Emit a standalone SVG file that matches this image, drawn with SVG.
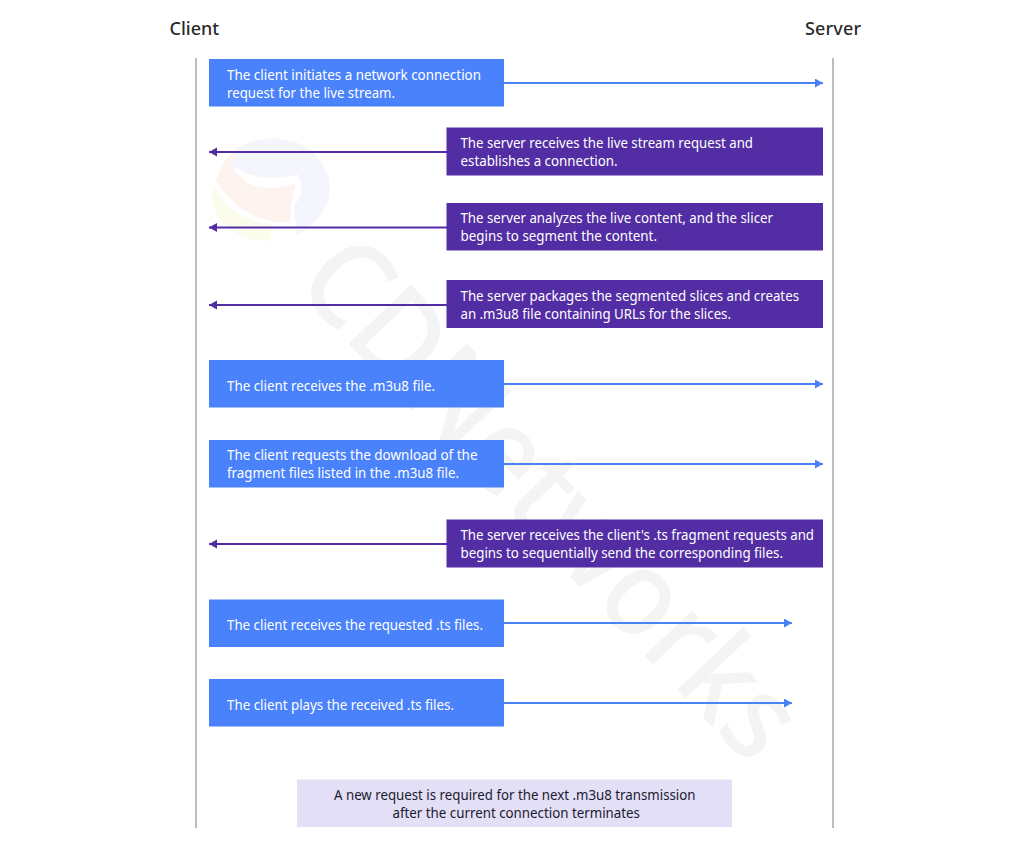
<svg xmlns="http://www.w3.org/2000/svg" width="1024" height="848" viewBox="0 0 1024 848">
<style>
text{font-family:"Noto Sans","Open Sans","Liberation Sans",sans-serif}
.h{font-size:18px;font-weight:500;fill:#2b2b2b}
.t{font-size:14px;fill:#fff}
.n{font-size:14px;fill:#1c1a2e}
.b{fill:#4a82fc}
.p{fill:#532da3}
.lb{stroke:#4a82f5;stroke-width:2;fill:none}
.lp{stroke:#532da3;stroke-width:2;fill:none}
.life{stroke:#bdbdbd;stroke-width:2}
</style>
<defs>
<marker id="ab" markerUnits="userSpaceOnUse" markerWidth="8" markerHeight="10" refX="8" refY="4.5" orient="auto"><path d="M0 0L8 4.500L0 9Z" fill="#4a82f5"/></marker>
<marker id="ap" markerUnits="userSpaceOnUse" markerWidth="8" markerHeight="10" refX="8" refY="4.5" orient="auto"><path d="M0 0L8 4.500L0 9Z" fill="#532da3"/></marker>
</defs>
<g id="watermark">
<text x="293" y="285" transform="rotate(46.500 293 285)" textLength="665" lengthAdjust="spacingAndGlyphs" style="font-size:120px;font-weight:500;fill:#f4f4f4">CDNetworks</text>
<path d="M233 153C245 135 300 130 320 160C338 185 332 215 297 235L294 205C303 197 303 183 297 174C285 180 245 180 233 165Z" fill="#f5f6fd"/>
<path d="M216 180C222 162 228 156 236 150C230 165 234 172 243 178C250 190 282 190 296 183L291 205L290 222C270 225 235 215 216 180Z" fill="#fdf4f0"/>
<path d="M212 195C214 225 240 242 270 241L272 224C250 224 225 210 214 185Z" fill="#fbfcec"/>
</g>
<g id="lifelines">
<line class="life" x1="196" y1="58" x2="196" y2="828"/>
<line class="life" x1="833" y1="58" x2="833" y2="828"/>
</g>
<g id="client-label"><text class="h" x="169.500" y="34.500">Client</text></g>
<g id="server-label"><text class="h" x="805" y="34.500" textLength="56">Server</text></g>
<g id="connectors">
<line class="lb" x1="503" y1="83" x2="823" y2="83" marker-end="url(#ab)"/>
<line class="lp" x1="447" y1="152" x2="209" y2="152" marker-end="url(#ap)"/>
<line class="lp" x1="447" y1="227.500" x2="209" y2="227.500" marker-end="url(#ap)"/>
<line class="lp" x1="447" y1="305" x2="209" y2="305" marker-end="url(#ap)"/>
<line class="lb" x1="503" y1="384" x2="823" y2="384" marker-end="url(#ab)"/>
<line class="lb" x1="503" y1="464" x2="823" y2="464" marker-end="url(#ab)"/>
<line class="lp" x1="447" y1="544" x2="209" y2="544" marker-end="url(#ap)"/>
<line class="lb" x1="503" y1="623" x2="792" y2="623" marker-end="url(#ab)"/>
<line class="lb" x1="503" y1="703" x2="792" y2="703" marker-end="url(#ab)"/>
</g>
<g id="n1"><rect class="b" x="209" y="59" width="295" height="47.500"/><text class="t" x="227" y="79.500" textLength="254" lengthAdjust="spacingAndGlyphs">The client initiates a network connection</text><text class="t" x="227" y="98" textLength="168" lengthAdjust="spacingAndGlyphs">request for the live stream.</text></g>
<g id="n2"><rect class="p" x="446.500" y="127.500" width="376.500" height="48"/><text class="t" x="460.500" y="148" textLength="292.500" lengthAdjust="spacingAndGlyphs">The server receives the live stream request and</text><text class="t" x="460.500" y="166" textLength="157" lengthAdjust="spacingAndGlyphs">establishes a connection.</text></g>
<g id="n3"><rect class="p" x="446.500" y="203" width="376.500" height="47.500"/><text class="t" x="460.500" y="223" textLength="312.500" lengthAdjust="spacingAndGlyphs">The server analyzes the live content, and the slicer</text><text class="t" x="460.500" y="241" textLength="196.500" lengthAdjust="spacingAndGlyphs">begins to segment the content.</text></g>
<g id="n4"><rect class="p" x="446.500" y="280" width="376.500" height="48"/><text class="t" x="460.500" y="300.500" textLength="338.500" lengthAdjust="spacingAndGlyphs">The server packages the segmented slices and creates</text><text class="t" x="460.500" y="319" textLength="270.500" lengthAdjust="spacingAndGlyphs">an .m3u8 file containing URLs for the slices.</text></g>
<g id="n5"><rect class="b" x="209" y="360" width="295" height="47.500"/><text class="t" x="227" y="390.500" textLength="208" lengthAdjust="spacingAndGlyphs">The client receives the .m3u8 file.</text></g>
<g id="n6"><rect class="b" x="209" y="440" width="295" height="47.500"/><text class="t" x="227" y="459.500" textLength="250.500" lengthAdjust="spacingAndGlyphs">The client requests the download of the</text><text class="t" x="227" y="478" textLength="232" lengthAdjust="spacingAndGlyphs">fragment files listed in the .m3u8 file.</text></g>
<g id="n7"><rect class="p" x="446.500" y="519.500" width="376.500" height="48"/><text class="t" x="460.500" y="539.500" textLength="353.500" lengthAdjust="spacingAndGlyphs">The server receives the client's .ts fragment requests and</text><text class="t" x="460.500" y="558" textLength="322.500" lengthAdjust="spacingAndGlyphs">begins to sequentially send the corresponding files.</text></g>
<g id="n8"><rect class="b" x="209" y="599.500" width="295" height="47.500"/><text class="t" x="227" y="630" textLength="256" lengthAdjust="spacingAndGlyphs">The client receives the requested .ts files.</text></g>
<g id="n9"><rect class="b" x="209" y="679" width="295" height="47.500"/><text class="t" x="227" y="710" textLength="227" lengthAdjust="spacingAndGlyphs">The client plays the received .ts files.</text></g>
<g id="n10"><rect x="297" y="779.500" width="435" height="47.500" fill="#e2dff7"/><text class="n" x="334" y="799.500" textLength="361.500" lengthAdjust="spacingAndGlyphs">A new request is required for the next .m3u8 transmission</text><text class="n" x="392.500" y="818" textLength="247.500" lengthAdjust="spacingAndGlyphs">after the current connection terminates</text></g>
</svg>
